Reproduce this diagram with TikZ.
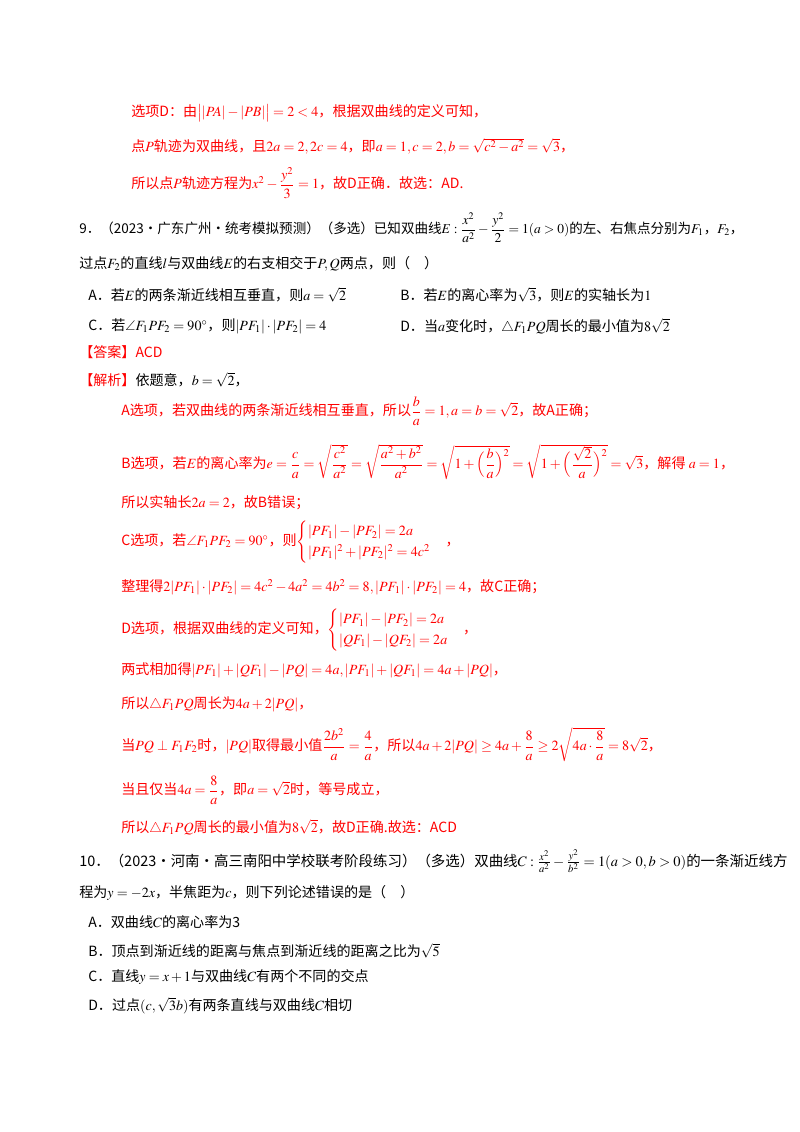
\documentclass[tikz,border=0pt]{standalone}
\usepackage{amsmath}
\usepackage{amssymb}
\usepackage{mathptmx}
\usepackage{fontspec}
\setmainfont{Noto Sans CJK SC}
\begin{document}
\begin{tikzpicture}[x=0.025cm,y=-0.025cm,
  line/.style={anchor=west,inner sep=0pt,font=\fontsize{10}{12}\selectfont},
  ans/.style={line,text=answer}]
      % Define colors
      \definecolor{answer}{RGB}{255,0,0}
      \useasboundingbox (0,0) rectangle (800,1132);

      % Previous problem, option D
      \node[ans] (prevA) at (131,113) {选项D：由$\bigl||PA|-|PB|\bigr|=2<4$，根据双曲线的定义可知，};
      \node[ans] (prevB) at (131,146) {点$P$轨迹为双曲线，且$2a=2,2c=4$，即$a=1,c=2,b=\sqrt{c^2-a^2}=\sqrt3$，};
      \node[ans] (prevC) at (131,183) {所以点$P$轨迹方程为$x^2-\dfrac{y^2}{3}=1$，故D正确．故选：AD.};

      % Problem 9
      \node[line] (q9a) at (79,228) {\resizebox{16.6cm}{!}{9．（2023·广东广州·统考模拟预测）（多选）已知双曲线$E:\dfrac{x^2}{a^2}-\dfrac{y^2}{2}=1(a>0)$的左、右焦点分别为$F_1$，$F_2$，}};
      \node[line] (q9b) at (79,264) {过点$F_2$的直线$l$与双曲线$E$的右支相交于$P,Q$两点，则（\quad ）};
      \node[line] (q9A) at (88,295) {A．若$E$的两条渐近线相互垂直，则$a=\sqrt2$};
      \node[line] (q9B) at (400,295) {B．若$E$的离心率为$\sqrt3$，则$E$的实轴长为$1$};
      \node[line] (q9C) at (88,326) {C．若$\angle F_1PF_2=90^\circ$，则$|PF_1|\cdot|PF_2|=4$};
      \node[line] (q9D) at (400,326) {D．当$a$变化时，$\triangle F_1PQ$周长的最小值为$8\sqrt2$};
      \node[ans] (key) at (79,352) {【答案】ACD};
      \node[line] (sol) at (79,380) {\textcolor{answer}{【解析】}依题意，$b=\sqrt2$，};

      % Solution
      \node[ans] (s1) at (121,411) {A选项，若双曲线的两条渐近线相互垂直，所以$\dfrac{b}{a}=1,a=b=\sqrt2$，故A正确；};
      \node[ans] (s2) at (121,462) {B选项，若$E$的离心率为$e=\dfrac{c}{a}=\sqrt{\dfrac{c^2}{a^2}}=\sqrt{\dfrac{a^2+b^2}{a^2}}=\sqrt{1+\Bigl(\dfrac{b}{a}\Bigr)^2}=\sqrt{1+\Bigl(\dfrac{\sqrt2}{a}\Bigr)^2}=\sqrt3$，解得\ $a=1$，};
      \node[ans] (s3) at (121,503) {所以实轴长$2a=2$，故B错误；};
      \node[ans] (s4) at (121,542) {C选项，若$\angle F_1PF_2=90^\circ$，则$\begin{cases}|PF_1|-|PF_2|=2a\\|PF_1|^2+|PF_2|^2=4c^2\end{cases}$，};
      \node[ans] (s5) at (121,587) {整理得$2|PF_1|\cdot|PF_2|=4c^2-4a^2=4b^2=8,|PF_1|\cdot|PF_2|=4$，故C正确；};
      \node[ans] (s6) at (121,630) {D选项，根据双曲线的定义可知，$\begin{cases}|PF_1|-|PF_2|=2a\\|QF_1|-|QF_2|=2a\end{cases}$，};
      \node[ans] (s7) at (121,670) {两式相加得$|PF_1|+|QF_1|-|PQ|=4a,|PF_1|+|QF_1|=4a+|PQ|$，};
      \node[ans] (s8) at (121,704) {所以$\triangle F_1PQ$周长为$4a+2|PQ|$，};
      \node[ans] (s9) at (121,745) {当$PQ\perp F_1F_2$时，$|PQ|$取得最小值$\dfrac{2b^2}{a}=\dfrac4a$，所以$4a+2|PQ|\ge4a+\dfrac8a\ge2\sqrt{4a\cdot\dfrac8a}=8\sqrt2$，};
      \node[ans] (s10) at (121,790) {当且仅当$4a=\dfrac8a$，即$a=\sqrt2$时，等号成立，};
      \node[ans] (s11) at (121,827) {所以$\triangle F_1PQ$周长的最小值为$8\sqrt2$，故D正确.故选：ACD};

      % Problem 10
      \node[line] (q10a) at (79,861) {\resizebox{17.7cm}{!}{10．（2023·河南·高三南阳中学校联考阶段练习）（多选）双曲线$C:\frac{x^2}{a^2}-\frac{y^2}{b^2}=1(a>0,b>0)$的一条渐近线方}};
      \node[line] (q10b) at (79,893) {程为$y=-2x$，半焦距为$c$，则下列论述错误的是（\quad ）};
      \node[line] (q10A) at (88,922) {A．双曲线$C$的离心率为3};
      \node[line] (q10B) at (88,951) {B．顶点到渐近线的距离与焦点到渐近线的距离之比为$\sqrt5$};
      \node[line] (q10C) at (88,977) {C．直线$y=x+1$与双曲线$C$有两个不同的交点};
      \node[line] (q10D) at (88,1006) {D．过点$(c,\sqrt3b)$有两条直线与双曲线$C$相切};
\end{tikzpicture}
\end{document}
